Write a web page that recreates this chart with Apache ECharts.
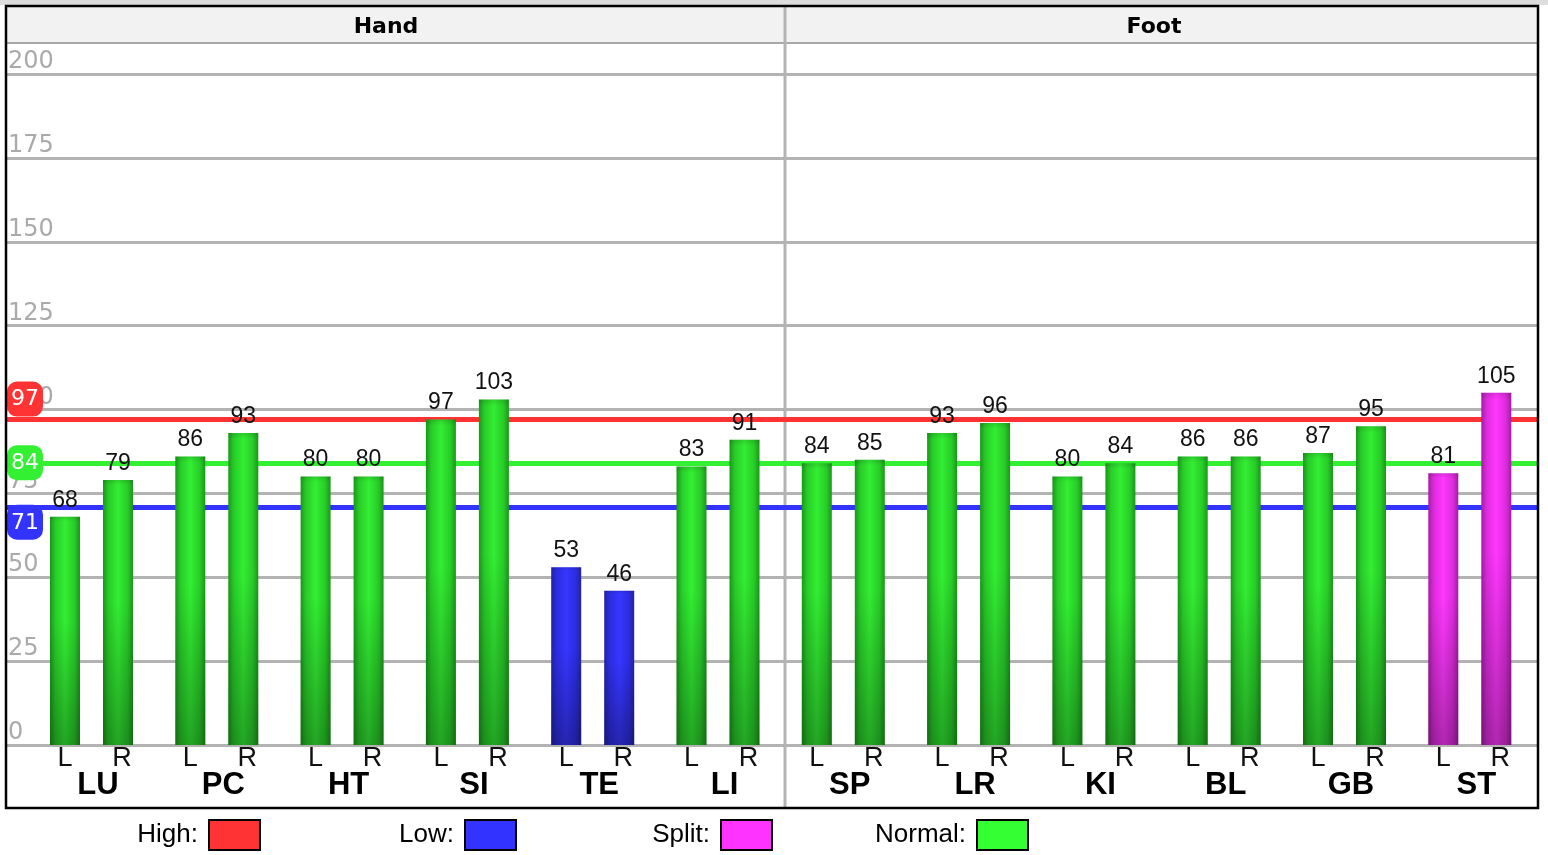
<!DOCTYPE html>
<html>
<head>
<meta charset="utf-8">
<script src="https://cdn.jsdelivr.net/npm/echarts@6/dist/echarts.min.js"></script>
<style>
  html, body { margin: 0; padding: 0; background: #fff; }
  #chart { width: 1548px; height: 855px; }
</style>
</head>
<body>
<div id="chart"></div>
<script>
// meridian names, hand first then foot
const categories = ['LU', 'PC', 'HT', 'SI', 'TE', 'LI', 'SP', 'LR', 'KI', 'BL', 'GB', 'ST']
const leftValues = [68, 86, 80, 97, 53, 83, 84, 93, 80, 86, 87, 81]
const rightValues = [79, 93, 80, 103, 46, 91, 85, 96, 84, 86, 95, 105]
const leftKind = ['normal', 'normal', 'normal', 'normal', 'low', 'normal', 'normal', 'normal', 'normal', 'normal', 'normal', 'split']
const rightKind = ['normal', 'normal', 'normal', 'normal', 'low', 'normal', 'normal', 'normal', 'normal', 'normal', 'normal', 'split']
const groups = ['Hand', 'Foot']
const highValue = 97
const normalValue = 84
const lowValue = 71
const legendNames = ['High:', 'Low:', 'Split:', 'Normal:']

// colours
const palette = {
  normal: {edge: '#1a961a', mid: '#28cc28', bright: '#33ee33'},
  low: {edge: '#2222a4', mid: '#2c2ce0', bright: '#3636ff'},
  split: {edge: '#a41ca4', mid: '#dc2cdc', bright: '#ff38ff'}
}
const lineColors = {high: '#ff3333', normal: '#33f033', low: '#3333ff'}
const legendColors = ['#ff3333', '#3333ff', '#ff33ff', '#33ff33']

function barColor(kind) {
  const p = palette[kind]
  return {
    type: 'linear', x: 0, y: 0, x2: 1, y2: 0,
    colorStops: [
      {offset: 0, color: p.edge},
      {offset: 0.18, color: p.mid},
      {offset: 0.5, color: p.bright},
      {offset: 0.82, color: p.mid},
      {offset: 1, color: p.edge}
    ]
  }
}
// darker toward the bottom, slight dark rim at top
const shade = {
  type: 'linear', x: 0, y: 0, x2: 0, y2: 1,
  colorStops: [
    {offset: 0, color: 'rgba(0,0,0,0.12)'},
    {offset: 0.02, color: 'rgba(0,0,0,0)'},
    {offset: 0.45, color: 'rgba(0,0,0,0)'},
    {offset: 1, color: 'rgba(0,0,0,0.3)'}
  ]
}

function barData(values, kinds) {
  return values.map((v, i) => ({value: v, itemStyle: {color: barColor(kinds[i])}}))
}

const sansFont = '"Liberation Sans", Arial, sans-serif'
const dejaFont = '"DejaVu Sans", sans-serif'

// plot area geometry (the bar grid is shifted so pairs land under the names)
const plotTop = 74
const plotBottom = 110
const barGrid = {left: 28.85, right: 15.55, top: plotTop, bottom: plotBottom}

const chart = echarts.init(document.getElementById('chart'))

function badge(color, pos, dist) {
  return {
    show: true,
    position: pos,
    distance: dist,
    formatter: '{c}',
    color: '#fff',
    fontFamily: dejaFont,
    fontSize: 22,
    backgroundColor: color,
    borderRadius: 10,
    padding: [7, 4, 6, 4]
  }
}

const valueLabel = {
  show: true,
  position: 'top',
  distance: 5,
  color: '#111',
  fontFamily: sansFont,
  fontSize: 23
}

const option = {
  animation: false,
  backgroundColor: '#fff',
  grid: [
    {left: 7, right: 9, top: plotTop, bottom: plotBottom},
    barGrid,
    barGrid
  ],
  xAxis: [
    {gridIndex: 0, type: 'value', min: 0, max: 1, show: false},
    {
      gridIndex: 1, type: 'category', data: categories,
      axisLine: {show: false}, axisTick: {show: false},
      axisLabel: {
        margin: 25,
        interval: 0,
        formatter: v => '{n|' + v + '}',
        rich: {
          n: {fontFamily: sansFont, fontWeight: 'bold', fontSize: 31, color: '#000', padding: [0, 0, 0, 13]}
        }
      }
    },
    {gridIndex: 2, type: 'category', data: categories, show: false}
  ],
  yAxis: [
    {
      gridIndex: 0, type: 'value', min: 0, max: 200, interval: 25,
      axisLine: {show: false}, axisTick: {show: false},
      axisLabel: {
        inside: true, margin: 1, verticalAlign: 'bottom',
        color: '#aaaaaa', fontFamily: dejaFont, fontSize: 24
      },
      splitLine: {lineStyle: {color: '#b3b3b3', width: 3}}
    },
    {gridIndex: 1, type: 'value', min: 0, max: 200, show: false},
    {gridIndex: 2, type: 'value', min: 0, max: 200, show: false}
  ],
  graphic: [
    {type: 'rect', shape: {x: 0, y: 0, width: 1548, height: 5}, style: {fill: '#dddddd'}, z: 0},
    {type: 'rect', shape: {x: 7, y: 7, width: 1531, height: 35}, style: {fill: '#f2f2f2'}, z: 0},
    {type: 'line', shape: {x1: 7, y1: 43, x2: 1538, y2: 43}, style: {stroke: '#a8a8a8', lineWidth: 2}, z: 1},
    {type: 'line', shape: {x1: 785, y1: 7, x2: 785, y2: 808}, style: {stroke: '#b3b3b3', lineWidth: 3}, z: 1},
    {type: 'rect', shape: {x: 6, y: 6, width: 1532, height: 802}, style: {fill: null, stroke: '#000', lineWidth: 2.5}, z: 10},
    {type: 'text', x: 386, y: 27, style: {text: groups[0], font: 'bold 22px "DejaVu Sans"', fill: '#000', align: 'center', verticalAlign: 'middle'}, z: 2},
    {type: 'text', x: 1154, y: 27, style: {text: groups[1], font: 'bold 22px "DejaVu Sans"', fill: '#000', align: 'center', verticalAlign: 'middle'}, z: 2}
  ].concat(legendNames.flatMap((name, i) => {
    const boxX = [208, 464, 720, 976][i]
    return [
      {type: 'text', x: boxX - 10, y: 835, style: {text: name, font: '26px "Liberation Sans"', fill: '#000', align: 'right', verticalAlign: 'middle'}},
      {type: 'rect', shape: {x: boxX + 1, y: 820, width: 51, height: 30}, style: {fill: legendColors[i], stroke: '#000', lineWidth: 2}}
    ]
  })),
  series: [
    {
      type: 'line', xAxisIndex: 0, yAxisIndex: 0, data: [],
      markLine: {
        silent: true,
        z: 1,
        symbol: ['none', 'none'],
        data: [
          {yAxis: highValue, lineStyle: {color: lineColors.high, width: 5, type: 'solid'}, label: badge(lineColors.high, 'insideStartTop', [0, 3])},
          {yAxis: normalValue, lineStyle: {color: lineColors.normal, width: 5, type: 'solid'}, label: badge(lineColors.normal, 'insideStartTop', [0, -17])},
          {yAxis: lowValue, lineStyle: {color: lineColors.low, width: 5, type: 'solid'}, label: badge(lineColors.low, 'insideStartBottom', [0, -2])}
        ]
      }
    },
    {
      name: 'L', type: 'bar', xAxisIndex: 1, yAxisIndex: 1,
      barWidth: 30, barGap: '76.67%',
      data: barData(leftValues, leftKind),
      label: valueLabel
    },
    {
      name: 'R', type: 'bar', xAxisIndex: 1, yAxisIndex: 1,
      barWidth: 30, barGap: '76.67%',
      data: barData(rightValues, rightKind),
      label: valueLabel
    },
    {
      type: 'bar', xAxisIndex: 2, yAxisIndex: 2,
      barWidth: 30, barGap: '76.67%',
      data: leftValues,
      itemStyle: {color: shade},
      label: {show: true, position: 'bottom', distance: 0, formatter: 'L', color: '#111', fontFamily: sansFont, fontSize: 27}
    },
    {
      type: 'bar', xAxisIndex: 2, yAxisIndex: 2,
      barWidth: 30, barGap: '76.67%',
      data: rightValues,
      itemStyle: {color: shade},
      label: {show: true, position: 'bottom', distance: 0, offset: [4, 0], formatter: 'R', color: '#111', fontFamily: sansFont, fontSize: 27}
    }
  ]
}

chart.setOption(option)
</script>
</body>
</html>
